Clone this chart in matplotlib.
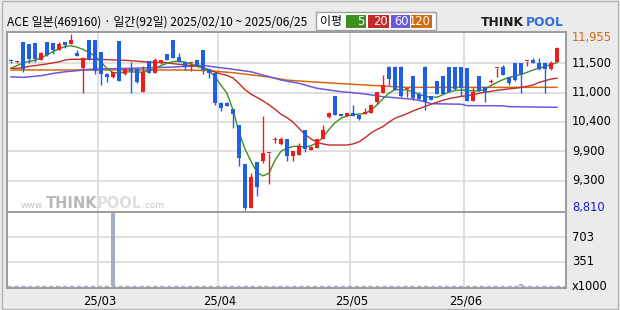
import matplotlib
matplotlib.use("Agg")
import matplotlib.pyplot as plt
from matplotlib.patches import Rectangle
import numpy as np

# ---------------- data ----------------
opens = [11475, 11455, 11805, 11775, 11790, 11490, 11805, 11790, 11670, 11810,
         11775, 11620, 11355, 11850, 11850, 11635, 11245, 11190, 11830, 11235,
         11330, 11325, 10925, 11475, 11265, 11430, 11600, 11850, 11540, 11460,
         11430, 11490, 11670, 11325, 11265, 10730, 10715, 10610, 10330, 9630,
         8850, 9670, 9690, 9820, 10055, 9985, 10080, 9780, 9795, 10240,
         9880, 9925, 10075, 10470, 10845, 10525, 10495, 10535, 10505, 10530,
         10540, 10745, 10905, 11370, 11370, 11370, 10965, 11205, 10880, 11370,
         10840, 11115, 11205, 11365, 11365, 11365, 11345, 10765, 11205, 11005,
         11100, 11340, 11360, 11180, 11440, 11440, 11465, 11490, 11440, 11440,
         11325, 11460]
highs = [11510, 11470, 11810, 11780, 11795, 11635, 11810, 11795, 11805, 11815,
         11955, 11670, 11550, 11855, 11855, 11640, 11250, 11275, 11835, 11340,
         11460, 11330, 11385, 11480, 11520, 11495, 11605, 11855, 11610, 11465,
         11445, 11495, 11675, 11330, 11270, 10735, 10745, 10615, 10335, 9635,
         9465, 9675, 10490, 9830, 10110, 10120, 10085, 9870, 10015, 10245,
         9945, 10085, 10330, 10565, 10850, 10530, 10545, 10685, 10510, 10625,
         10690, 10925, 11220, 11375, 11375, 11375, 10980, 11210, 10915, 11375,
         10845, 11120, 11210, 11370, 11370, 11370, 11350, 11005, 11210, 11010,
         11155, 11355, 11400, 11185, 11445, 11445, 11480, 11520, 11520, 11445,
         11480, 11715]
lows = [11430, 11430, 11280, 11430, 11460, 11485, 11570, 11600, 11665, 11700,
        11770, 11560, 10905, 11485, 11235, 11045, 11105, 11175, 11110, 11230,
        10905, 11075, 10920, 11260, 11260, 11425, 11485, 11525, 11455, 11310,
        11300, 11380, 11235, 11165, 10685, 10585, 10665, 10270, 9595, 8810,
        8845, 9065, 9655, 9270, 10005, 9980, 9690, 9685, 9785, 9850,
        9875, 9920, 10070, 10450, 10505, 10490, 10490, 10490, 10425, 10520,
        10535, 10705, 10900, 11045, 10955, 10835, 10835, 10775, 10780, 10600,
        10775, 10875, 10875, 10920, 10955, 10850, 10760, 10760, 10930, 10745,
        11075, 11190, 11220, 11045, 11120, 10905, 11385, 11430, 11320, 10905,
        11320, 11455]
closes = [11470, 11465, 11325, 11510, 11505, 11610, 11580, 11670, 11775, 11755,
          11850, 11565, 11530, 11490, 11300, 11235, 11190, 11270, 11115, 11335,
          11295, 11105, 11270, 11265, 11490, 11490, 11490, 11530, 11460, 11360,
          11440, 11385, 11310, 11255, 10730, 10640, 10670, 10520, 9745, 8850,
          9405, 9225, 9825, 9825, 10065, 10085, 9780, 9865, 9960, 9895,
          9940, 10080, 10240, 10540, 10510, 10495, 10535, 10495, 10430, 10540,
          10685, 10920, 11045, 11155, 10960, 10840, 10975, 10805, 10800, 10740,
          10780, 10880, 10880, 10925, 10975, 10990, 10765, 10925, 10935, 10925,
          11110, 11350, 11225, 11075, 11135, 11240, 11475, 11435, 11325, 11325,
          11430, 11710]
volumes_k = [2, 2, 3, 2, 2, 2, 2, 2, 2, 2,
             2, 2, 3, 2, 2, 2, 2, 1055, 3, 2,
             2, 2, 3, 2, 2, 2, 2, 2, 2, 2,
             2, 2, 2, 2, 3, 3, 2, 3, 4, 4,
             3, 3, 3, 2, 2, 2, 2, 2, 2, 2,
             2, 2, 2, 2, 2, 2, 2, 2, 2, 2,
             2, 2, 2, 2, 2, 2, 2, 2, 2, 2,
             2, 2, 2, 2, 2, 2, 2, 2, 2, 2,
             2, 2, 2, 2, 2, 25, 2, 2, 2, 2,
             2, 3]

# moving averages
ma5 = [11345, 11390, 11440, 11465, 11485, 11530, 11580, 11640, 11690, 11730,
       11745, 11720, 11680, 11625, 11560, 11450, 11342, 11264, 11262, 11275,
       11280, 11272, 11275, 11300, 11335, 11390, 11431, 11462, 11470, 11450,
       11420, 11385, 11345, 11305, 11190, 11040, 10895, 10600, 10200, 9900,
       9680, 9480, 9420, 9466, 9700, 9860, 9912, 9945, 9950, 9932,
       9960, 10010, 10110, 10250, 10370, 10450, 10490, 10512, 10525, 10536,
       10600, 10686, 10800, 10900, 10960, 10962, 10954, 10924, 10880, 10840,
       10828, 10826, 10870, 10920, 10945, 10955, 10945, 10940, 10936, 10970,
       11035, 11090, 11140, 11178, 11210, 11230, 11270, 11310, 11342, 11375,
       11410, 11442]
ma20 = [11342, 11342, 11355, 11375, 11390, 11405, 11420, 11440, 11458, 11490,
        11503, 11503, 11503, 11503, 11503, 11500, 11497, 11492, 11488, 11484,
        11478, 11470, 11460, 11455, 11450, 11445, 11440, 11425, 11413, 11405,
        11390, 11375, 11350, 11320, 11275, 11240, 11215, 11170, 11070, 10960,
        10880, 10820, 10760, 10690, 10610, 10520, 10460, 10380, 10270, 10160,
        10080, 10020, 9990, 9972, 9971, 9971, 9971, 9990, 10030, 10100,
        10190, 10250, 10300, 10380, 10450, 10490, 10530, 10580, 10620, 10660,
        10700, 10735, 10770, 10800, 10820, 10840, 10852, 10870, 10895, 10915,
        10930, 10950, 10960, 10975, 10985, 11000, 11020, 11044, 11090, 11120,
        11150, 11165]
ma60_day = [1, 3, 6, 8, 10, 12, 14, 16, 21, 27, 31, 33, 35, 38, 41, 44, 46, 49,
            52, 56, 58, 60, 63, 66, 68, 70, 71, 76, 77, 83, 84, 92]
ma60 = [11190, 11180, 11210, 11250, 11280, 11299, 11324, 11330, 11342, 11360,
        11380, 11395, 11365, 11325, 11280, 11192, 11133, 11074, 10985, 10924,
        10906, 10883, 10835, 10806, 10790, 10745, 10710, 10700, 10675, 10672,
        10656, 10645]
ma120_day = [1, 30, 34, 36, 38, 41, 44, 47, 52, 57, 63, 67, 92]
ma120 = [11312, 11312, 11300, 11280, 11264, 11225, 11185, 11130, 11095, 11062,
         11026, 11002, 11002]

days = list(range(1, len(closes) + 1))
month_first_day = [16, 36, 58, 77]
month_labels = ["25/03", "25/04", "25/05", "25/06"]
price_tick_labels = ["9,300", "9,900", "10,400", "11,000", "11,500"]
title_text = "ACE 일본(469160) · 일간(92일) 2025/02/10 ~ 2025/06/25"
ma_legend = ["5", "20", "60", "120"]

# ---------------- style ----------------
W, H = 620, 310
BG = "#ebebeb"
UP = "#f01c1c"
DOWN = "#1f5fe3"
C_MA5 = "#3f8f1f"
C_MA20 = "#c42a28"
C_MA60 = "#6a58de"
C_MA120 = "#d46a0c"
GRID = "#d9d9d9"
BORDER = "#9c9c9c"
VOLC = "#a3adc4"

fig = plt.figure(figsize=(W / 100, H / 100), dpi=100)
fig.patch.set_facecolor(BG)

def fx(px):
    return px / W

def fy(py):
    return 1 - py / H

left_px, right_px = 7, 566
top_px, mid_px, bot_px = 32, 212, 288
axp = fig.add_axes([fx(left_px), fy(mid_px), fx(right_px - left_px), (mid_px - top_px) / H])
axv = fig.add_axes([fx(left_px), fy(bot_px), fx(right_px - left_px), (bot_px - mid_px) / H])

o = np.array(opens, float)
h = np.array(highs, float)
l = np.array(lows, float)
c = np.array(closes, float)
x = np.array(days, float)

pmax, pmin = h.max(), l.min()
ppx = (pmax - pmin) / 176          # price units per pixel
pad = ppx * 2
axp.set_ylim(pmin - pad, pmax + pad)
xl = (0.333, 93.5)
axp.set_xlim(*xl)
axv.set_xlim(*xl)

# grid
for ax in (axp, axv):
    ax.set_facecolor("white")
    for d in month_first_day:
        ax.axvline(d - 0.45, color=GRID, lw=1.2, zorder=0)
    for s in ax.spines.values():
        s.set_color(BORDER)
        s.set_linewidth(1.4)
    ax.set_xticks([])
    ax.set_yticks([])

grid_vals = [pmin + k * (pmax - pmin) / 6 for k in range(1, 6)]
for gv in grid_vals:
    axp.axhline(gv, color=GRID, lw=1.2, zorder=0)

# MA lines
axp.plot(ma120_day, ma120, color=C_MA120, lw=1.1, zorder=2)
axp.plot(ma60_day, ma60, color=C_MA60, lw=1.1, zorder=2)
axp.plot(days, ma20, color=C_MA20, lw=1.0, zorder=2)
axp.plot(days, ma5, color=C_MA5, lw=1.0, zorder=2)

# candles
min_h = ppx * 1.3
up = c >= o
cols = np.where(up, UP, DOWN)
axp.vlines(x, l, h, colors=cols, lw=1.0, zorder=3)
body_bot = np.minimum(o, c)
body_h = np.maximum(np.abs(c - o), min_h)
axp.bar(x, body_h, bottom=body_bot, width=0.76, color=cols, lw=0, zorder=4)

# volume
vol = np.array(volumes_k, float)
vmax = vol.max()
vpx = 73.0
vbot = -vmax * 2 / vpx
vtop = vmax + vmax * 1 / vpx
axv.set_ylim(vbot, vtop)
axv.bar(x, vol, width=0.76, color=VOLC, lw=0, zorder=3)
axv.axhline(0, color=VOLC, lw=1.0, ls=(0, (3, 2)), zorder=2)
for k in (1, 2):
    axv.axhline(vmax * k / 3, color=GRID, lw=1.2, zorder=0)

# right-side labels
lx = 1.0 + 6 / (right_px - left_px)
tfont = dict(family="DejaVu Sans", fontsize=8.3)
axp.text(lx, pmax - ppx * 3.5, f"{int(pmax):,}", color="#d06a0a",
         transform=axp.get_yaxis_transform(), va="center", ha="left", **tfont)
for gv, lab in zip(grid_vals, price_tick_labels):
    axp.text(lx, gv, lab, color="black",
             transform=axp.get_yaxis_transform(), va="center", ha="left", **tfont)
axp.text(lx, pmin + ppx * 2.5, f"{int(pmin):,}", color="#1a1ad0",
         transform=axp.get_yaxis_transform(), va="center", ha="left", **tfont)
for k in (1, 2):
    axv.text(lx, vmax * k / 3, f"{int(vmax * k / 3)}", color="black",
             transform=axv.get_yaxis_transform(), va="center", ha="left", **tfont)
axv.text(lx, 0, "x1000", color="black",
         transform=axv.get_yaxis_transform(), va="center", ha="left", **tfont)

# month labels
for d, lab in zip(month_first_day, month_labels):
    axv.text(d - 0.2, -0.17, lab, transform=axv.get_xaxis_transform(),
             ha="center", va="center", color="black", **tfont)

# header
fig.text(fx(7), fy(22), title_text, family=["Noto Sans CJK KR", "DejaVu Sans"],
         fontsize=8.6, va="center", ha="left", color="black")

# MA legend box
fig.patches.append(Rectangle((fx(316), fy(30)), fx(120), (30 - 12) / H, transform=fig.transFigure,
                             facecolor="white", edgecolor="#a0a0a0", lw=1.0))
fig.text(fx(320), fy(21.5), "이평", family=["Noto Sans CJK KR"], fontsize=8.6,
         va="center", ha="left")
box_x = [346, 368, 391, 411]
box_w = [20, 21, 19, 21]
box_c = [C_MA5, C_MA20, C_MA60, C_MA120]
for bx, bw, bc, t in zip(box_x, box_w, box_c, ma_legend):
    fig.patches.append(Rectangle((fx(bx), fy(28)), fx(bw), 13 / H, transform=fig.transFigure,
                                 facecolor=bc, edgecolor="none"))
    fig.text(fx(bx + bw - 1), fy(21.5), t, color="white", fontsize=8.3,
             va="center", ha="right", family="DejaVu Sans")

# logo
fig.text(fx(481), fy(22), "THINK", fontsize=8.8, fontweight="bold", color="#1a1a1a",
         va="center", ha="left", family="DejaVu Sans")
fig.text(fx(526), fy(22), "POOL", fontsize=8.8, fontweight="bold", color="#2f6fd8",
         va="center", ha="left", family="DejaVu Sans")

# watermark
fig.text(fx(21), fy(205), "www.", fontsize=6.5, color="#c4c4c4", va="center", ha="left")
fig.text(fx(46), fy(203), "THINK", fontsize=10.5, fontweight="bold", color="#b8b8b8",
         va="center", ha="left")
fig.text(fx(97), fy(203), "POOL", fontsize=10.5, fontweight="bold", color="#dedede",
         va="center", ha="left")
fig.text(fx(142), fy(205), ".com", fontsize=6.5, color="#c4c4c4", va="center", ha="left")

# outer frame
fig.patches.append(Rectangle((0.003, 0.003), 0.994, 0.994, transform=fig.transFigure,
                             facecolor="none", edgecolor="#b5b5b5", lw=1.0))

fig.savefig("out.png", dpi=100, facecolor=BG)
